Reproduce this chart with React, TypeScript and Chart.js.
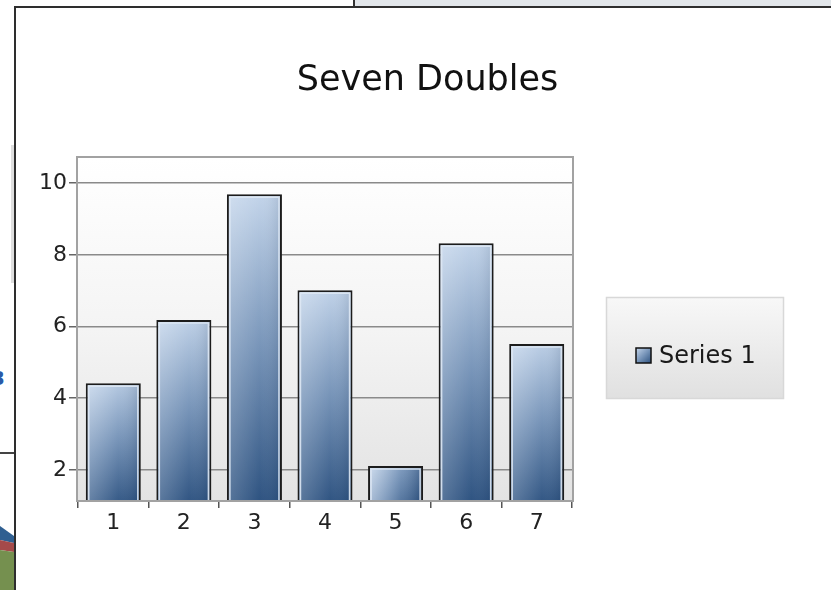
import React, { useEffect, useRef } from "react";
import { Chart, registerables } from "chart.js";

Chart.register(...registerables);

const categories = ["1", "2", "3", "4", "5", "6", "7"];
const seriesLabel = "Series 1";
const seriesValues = [4.42, 6.18, 9.69, 7.01, 2.11, 8.32, 5.51];
const yTickValues = [2, 4, 6, 8, 10];
const yMin = 1.16;
const yMax = 10.7;
const chartTitle = "Seven Doubles";

const FONT = "'DejaVu Sans', Verdana, sans-serif";

function barGradient(ctx: CanvasRenderingContext2D, l: number, t: number, r: number, b: number) {
  const g = ctx.createLinearGradient(l, t, r, b);
  g.addColorStop(0, "#c6d7ec");
  g.addColorStop(0.5, "#7895b9");
  g.addColorStop(1, "#2d5280");
  return g;
}

const plotPlugin = {
  id: "plotDecor",
  beforeDraw(chart: any) {
    const { ctx, chartArea } = chart;
    if (!chartArea) return;
    const { left, top, right, bottom } = chartArea;
    ctx.save();
    const g = ctx.createLinearGradient(0, top, 0, bottom);
    g.addColorStop(0, "#ffffff");
    g.addColorStop(0.5, "#f4f4f4");
    g.addColorStop(1, "#e3e3e3");
    ctx.fillStyle = g;
    ctx.fillRect(left, top, right - left, bottom - top);
    ctx.restore();
  },
  afterDatasetsDraw(chart: any) {
    const { ctx, chartArea } = chart;
    const meta = chart.getDatasetMeta(0);
    ctx.save();
    ctx.beginPath();
    ctx.rect(chartArea.left, chartArea.top, chartArea.right - chartArea.left, chartArea.bottom - chartArea.top);
    ctx.clip();
    meta.data.forEach((el: any) => {
      const { x, y, width } = el.getProps(["x", "y", "width"], true);
      const l = x - width / 2 + 2;
      const r = x + width / 2 - 2;
      const t = y + 2;
      const b = chartArea.bottom;
      const h = ctx.createLinearGradient(l, 0, r, 0);
      h.addColorStop(0, "rgba(255,255,255,0.18)");
      h.addColorStop(0.6, "rgba(255,255,255,0)");
      h.addColorStop(1, "rgba(0,20,50,0.10)");
      ctx.fillStyle = h;
      ctx.fillRect(l, t, r - l, b - t);
      ctx.strokeStyle = "rgba(222,232,244,0.9)";
      ctx.lineWidth = 1.5;
      ctx.beginPath();
      ctx.moveTo(l + 1, b);
      ctx.lineTo(l + 1, t + 1);
      ctx.lineTo(r - 1, t + 1);
      ctx.lineTo(r - 1, b);
      ctx.stroke();
    });
    ctx.restore();
    ctx.save();
    ctx.strokeStyle = "#a2a2a2";
    ctx.lineWidth = 2;
    ctx.strokeRect(chartArea.left - 1, chartArea.top - 1, chartArea.right - chartArea.left + 2, chartArea.bottom - chartArea.top + 2);
    ctx.restore();
  },
  afterDraw(chart: any) {
    const { ctx } = chart;
    const bx = 590, by = 289, bw = 178, bh = 102;
    ctx.save();
    const g = ctx.createLinearGradient(0, by, 0, by + bh);
    g.addColorStop(0, "#f8f8f8");
    g.addColorStop(1, "#e0e0e0");
    ctx.fillStyle = g;
    ctx.fillRect(bx, by, bw, bh);
    ctx.strokeStyle = "#d8d8d8";
    ctx.lineWidth = 1.5;
    ctx.strokeRect(bx + 0.5, by + 0.5, bw - 1, bh - 1);
    const ix = 620, iy = 340, is = 15;
    ctx.fillStyle = barGradient(ctx, ix, iy, ix + is, iy + is);
    ctx.fillRect(ix, iy, is, is);
    ctx.strokeStyle = "#111";
    ctx.lineWidth = 1.5;
    ctx.strokeRect(ix, iy, is, is);
    ctx.fillStyle = "#1a1a1a";
    ctx.font = `24px ${FONT}`;
    ctx.textBaseline = "middle";
    ctx.textAlign = "left";
    ctx.fillText(chart.data.datasets[0].label, 643, 349);
    ctx.restore();
  },
};

export default function App() {
  const ref = useRef<HTMLCanvasElement | null>(null);
  useEffect(() => {
    if (!ref.current) return;
    const chart = new Chart(ref.current, {
      type: "bar",
      data: {
        labels: categories,
        datasets: [
          {
            label: seriesLabel,
            data: seriesValues,
            borderColor: "#1c1c1c",
            borderWidth: 2,
            borderSkipped: "start",
            categoryPercentage: 1,
            barPercentage: 0.78,
            backgroundColor: (c: any) => {
              const chart = c.chart;
              const area = chart.chartArea;
              const xs = chart.scales.x;
              const ys = chart.scales.y;
              if (!area || !xs || !ys || c.dataIndex === undefined) return "#6f8db3";
              const cx = xs.getPixelForValue(c.dataIndex);
              const w = (xs.width / categories.length) * 0.78;
              const t = ys.getPixelForValue(seriesValues[c.dataIndex]);
              return barGradient(chart.ctx, cx - w / 2, t, cx + w / 2, area.bottom);
            },
          },
        ],
      },
      options: {
        responsive: false,
        animation: false,
        devicePixelRatio: 1,
        layout: { padding: { left: 8, right: 0, top: 0, bottom: 0 } },
        plugins: {
          legend: { display: false },
          tooltip: { enabled: false },
          title: {
            display: true,
            text: chartTitle,
            color: "#111",
            font: { family: FONT, size: 35, weight: "normal" },
            padding: { top: 52, bottom: 56 },
          },
        },
        scales: {
          x: {
            offset: true,
            grid: {
              offset: true,
              drawOnChartArea: false,
              drawTicks: true,
              tickLength: 8,
              color: "#555",
              lineWidth: 1.5,
            },
            border: { display: false },
            ticks: { font: { family: FONT, size: 22 }, color: "#222", padding: 2 },
            afterFit: (s: any) => {
              s.height = 90;
            },
          },
          y: {
            min: yMin,
            max: yMax,
            afterBuildTicks: (s: any) => {
              s.ticks = yTickValues.map((v) => ({ value: v }));
            },
            grid: {
              color: "#8a8a8a",
              lineWidth: 1.5,
              tickLength: 9,
              tickColor: "#666",
            },
            border: { display: false },
            ticks: { font: { family: FONT, size: 22 }, color: "#222", padding: 2 },
            afterFit: (s: any) => {
              s.width = 54;
            },
          },
          y2: {
            type: "linear",
            position: "right",
            display: true,
            grid: { display: false, drawTicks: false },
            ticks: { display: false },
            border: { display: false },
            afterFit: (s: any) => {
              s.width = 259;
            },
          },
        },
      },
      plugins: [plotPlugin],
    } as any);
    return () => chart.destroy();
  }, []);

  return (
    <div style={{ position: "fixed", left: 0, top: 0, width: 831, height: 590, background: "#fff", overflow: "hidden" }}>
      <div style={{ position: "absolute", left: 355, top: 0, width: 476, height: 6, background: "#e2e6ea" }} />
      <div style={{ position: "absolute", left: 353, top: 0, width: 2, height: 7, background: "#333" }} />
      <div style={{ position: "absolute", left: 14, top: 6, width: 817, height: 2, background: "#2e2e2e" }} />
      <div style={{ position: "absolute", left: 14, top: 6, width: 2, height: 584, background: "#2e2e2e" }} />
      <div style={{ position: "absolute", left: 11, top: 145, width: 3, height: 138, background: "#dedede" }} />
      <div style={{ position: "absolute", left: 0, top: 452, width: 14, height: 2, background: "#444" }} />
      <div style={{ position: "absolute", left: -9, top: 366, fontFamily: FONT, fontSize: 20, fontWeight: "bold", color: "#2a5aa8" }}>3</div>
      <svg style={{ position: "absolute", left: 0, top: 500 }} width={14} height={90}>
        <polygon points="0,26 14,36 14,43 0,40" fill="#2f5f91" />
        <polygon points="0,40 14,43 14,52 0,50" fill="#a54a4a" />
        <polygon points="0,50 14,52 14,90 0,90" fill="#75904f" />
      </svg>
      <canvas ref={ref} width={815} height={582} style={{ position: "absolute", left: 16, top: 8, width: 815, height: 582 }} />
    </div>
  );
}
